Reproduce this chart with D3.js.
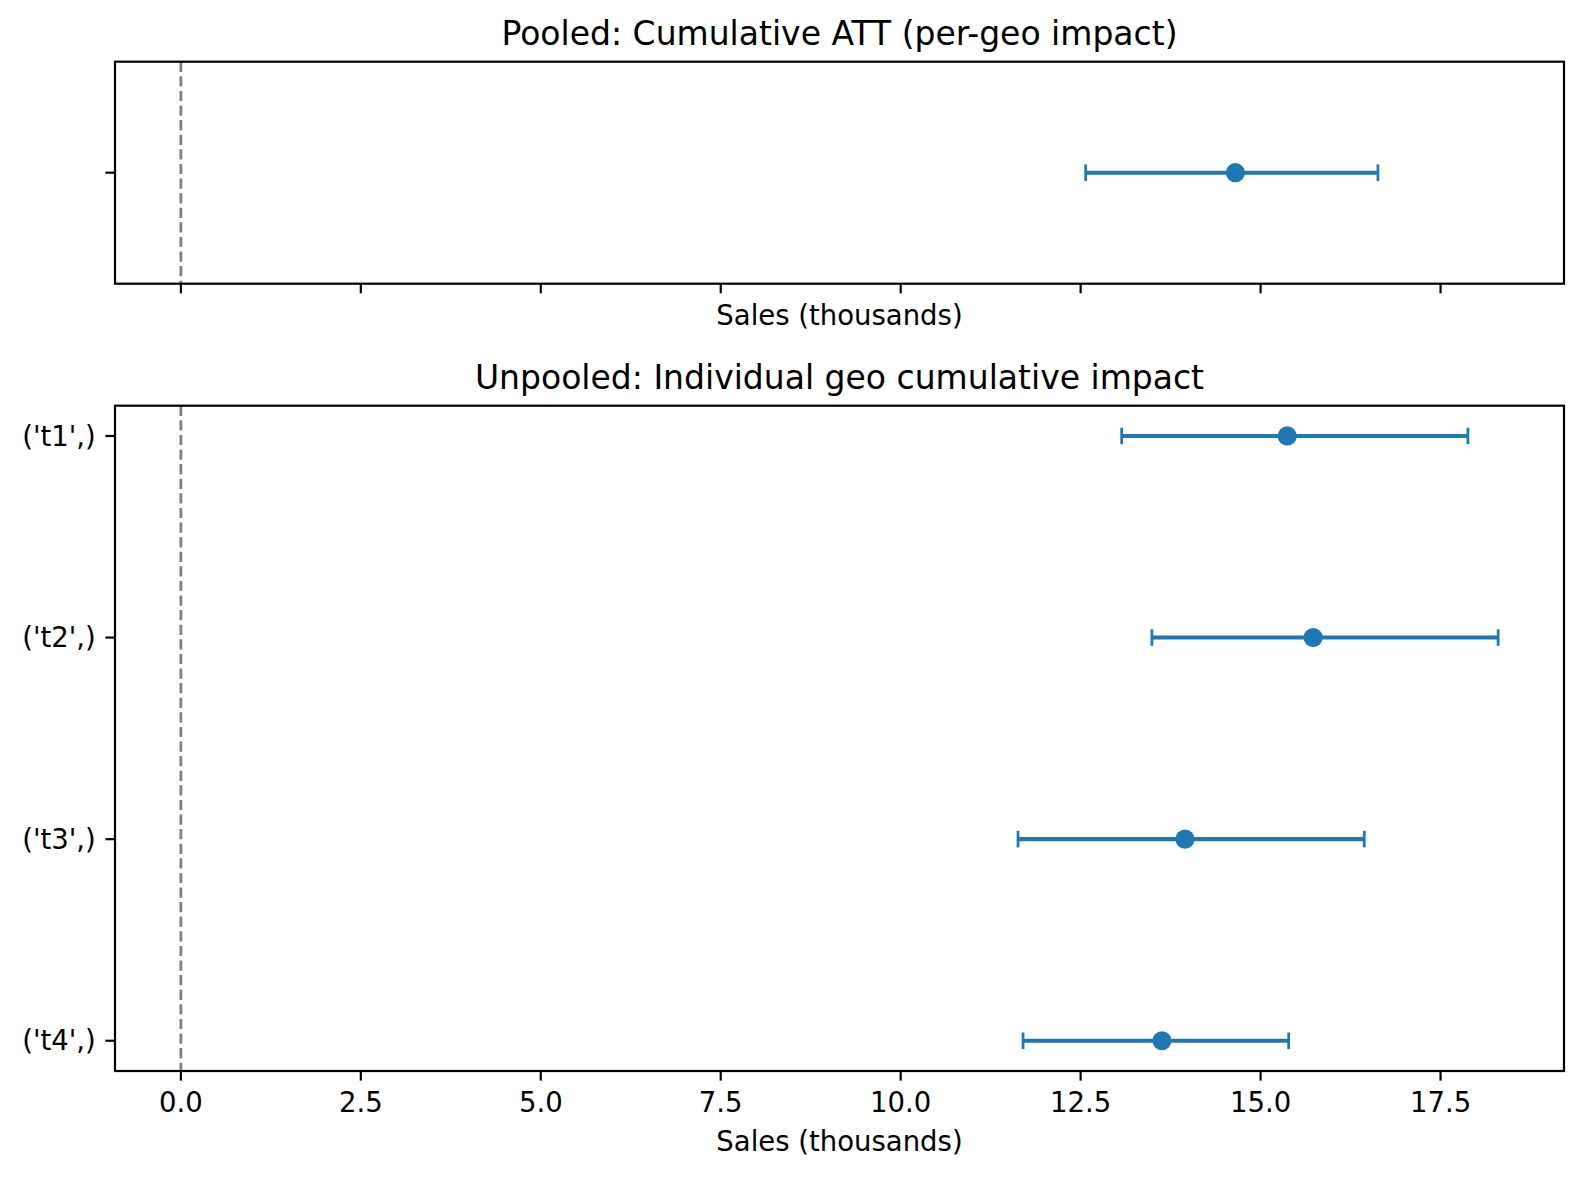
<!DOCTYPE html>
<meta charset="utf-8">
<style>
  body { margin: 0; background: #fff; }
  text { font-family: "DejaVu Sans", sans-serif; fill: #000; }
</style>
<body>
<script src="https://cdn.jsdelivr.net/npm/d3@7"></script>
<script>

// pooled estimate (thousands)
var pooledMean = [14.65];
var pooledLow = [12.57];
var pooledHigh = [16.63];

// unpooled per-geo estimates
var geos = ["('t1',)", "('t2',)", "('t3',)", "('t4',)"];
var geoMean = [15.37, 15.73, 13.95, 13.63];
var geoLow = [13.07, 13.49, 11.63, 11.70];
var geoHigh = [17.88, 18.30, 16.44, 15.39];

var xTicks = [0, 2.5, 5, 7.5, 10, 12.5, 15, 17.5];

var width = 1584, height = 1178;
var blue = "#1f77b4";
var left = 115, right = 1564;

var svg = d3.select("body").append("svg")
    .attr("width", width)
    .attr("height", height);

svg.append("rect").attr("width", width).attr("height", height).attr("fill", "#fff");

// x range like matplotlib: data incl. the zero line, plus 5% margins
var allX = [0].concat(geoLow, geoHigh, pooledLow, pooledHigh);
var xmin = d3.min(allX), xmax = d3.max(allX);
var pad = (xmax - xmin) * 0.05;
var x = d3.scaleLinear().domain([xmin - pad, xmax + pad]).range([left, right]);

function panel(top, bottom, title, labels, mean, low, high, showTickLabels) {
  var g = svg.append("g");
  var n = labels.length;
  var y;
  if (n > 1) {
    var m = (n - 1) * 0.05;
    y = d3.scaleLinear().domain([-m, n - 1 + m]).range([top, bottom]);
  } else {
    y = d3.scaleLinear().domain([-0.055, 0.055]).range([top, bottom]);
  }

  // zero reference line
  g.append("line")
    .attr("x1", x(0)).attr("x2", x(0))
    .attr("y1", top).attr("y2", bottom)
    .attr("stroke", "#808080").attr("stroke-width", 2.75)
    .attr("stroke-dasharray", "10.2,4.4");

  var rows = g.selectAll(".row").data(labels).enter().append("g")
    .attr("transform", function(d, i) { return "translate(0," + y(i) + ")"; });

  rows.append("line")
    .attr("x1", function(d, i) { return x(low[i]); })
    .attr("x2", function(d, i) { return x(high[i]); })
    .attr("stroke", blue).attr("stroke-width", 4.1);

  rows.append("line")
    .attr("x1", function(d, i) { return x(low[i]); })
    .attr("x2", function(d, i) { return x(low[i]); })
    .attr("y1", -8.25).attr("y2", 8.25)
    .attr("stroke", blue).attr("stroke-width", 2.75);

  rows.append("line")
    .attr("x1", function(d, i) { return x(high[i]); })
    .attr("x2", function(d, i) { return x(high[i]); })
    .attr("y1", -8.25).attr("y2", 8.25)
    .attr("stroke", blue).attr("stroke-width", 2.75);

  rows.append("circle")
    .attr("cx", function(d, i) { return x(mean[i]); })
    .attr("r", 9.6)
    .attr("fill", blue);

  // y ticks
  rows.append("line")
    .attr("x1", left).attr("x2", left - 9.6)
    .attr("stroke", "#000").attr("stroke-width", 2.2);

  if (n > 1) {
    rows.append("text")
      .attr("x", left - 19.2)
      .attr("dy", "0.35em")
      .attr("text-anchor", "end")
      .style("font-size", "27.5px")
      .text(function(d) { return d; });
  }

  // x ticks
  var xt = g.selectAll(".xt").data(xTicks).enter().append("g")
    .attr("transform", function(d) { return "translate(" + x(d) + "," + bottom + ")"; });
  xt.append("line").attr("y2", 9.6).attr("stroke", "#000").attr("stroke-width", 2.2);
  if (showTickLabels) {
    xt.append("text")
      .attr("y", 40.5)
      .attr("text-anchor", "middle")
      .style("font-size", "27.5px")
      .text(function(d) { return d3.format(".1f")(d); });
  }

  // frame
  g.append("rect")
    .attr("x", left).attr("y", top)
    .attr("width", right - left).attr("height", bottom - top)
    .attr("fill", "none").attr("stroke", "#000").attr("stroke-width", 2.2);

  g.append("text")
    .attr("x", (left + right) / 2).attr("y", top - 16.5)
    .attr("text-anchor", "middle")
    .style("font-size", "33px")
    .text(title);

  g.append("text")
    .attr("x", (left + right) / 2)
    .attr("y", showTickLabels ? bottom + 80 : bottom + 41.3)
    .attr("text-anchor", "middle")
    .style("font-size", "27.5px")
    .text("Sales (thousands)");
}

panel(61.7, 283.7, "Pooled: Cumulative ATT (per-geo impact)", [""], pooledMean, pooledLow, pooledHigh, false);
panel(405.7, 1071, "Unpooled: Individual geo cumulative impact", geos, geoMean, geoLow, geoHigh, true);

</script>
</body>
